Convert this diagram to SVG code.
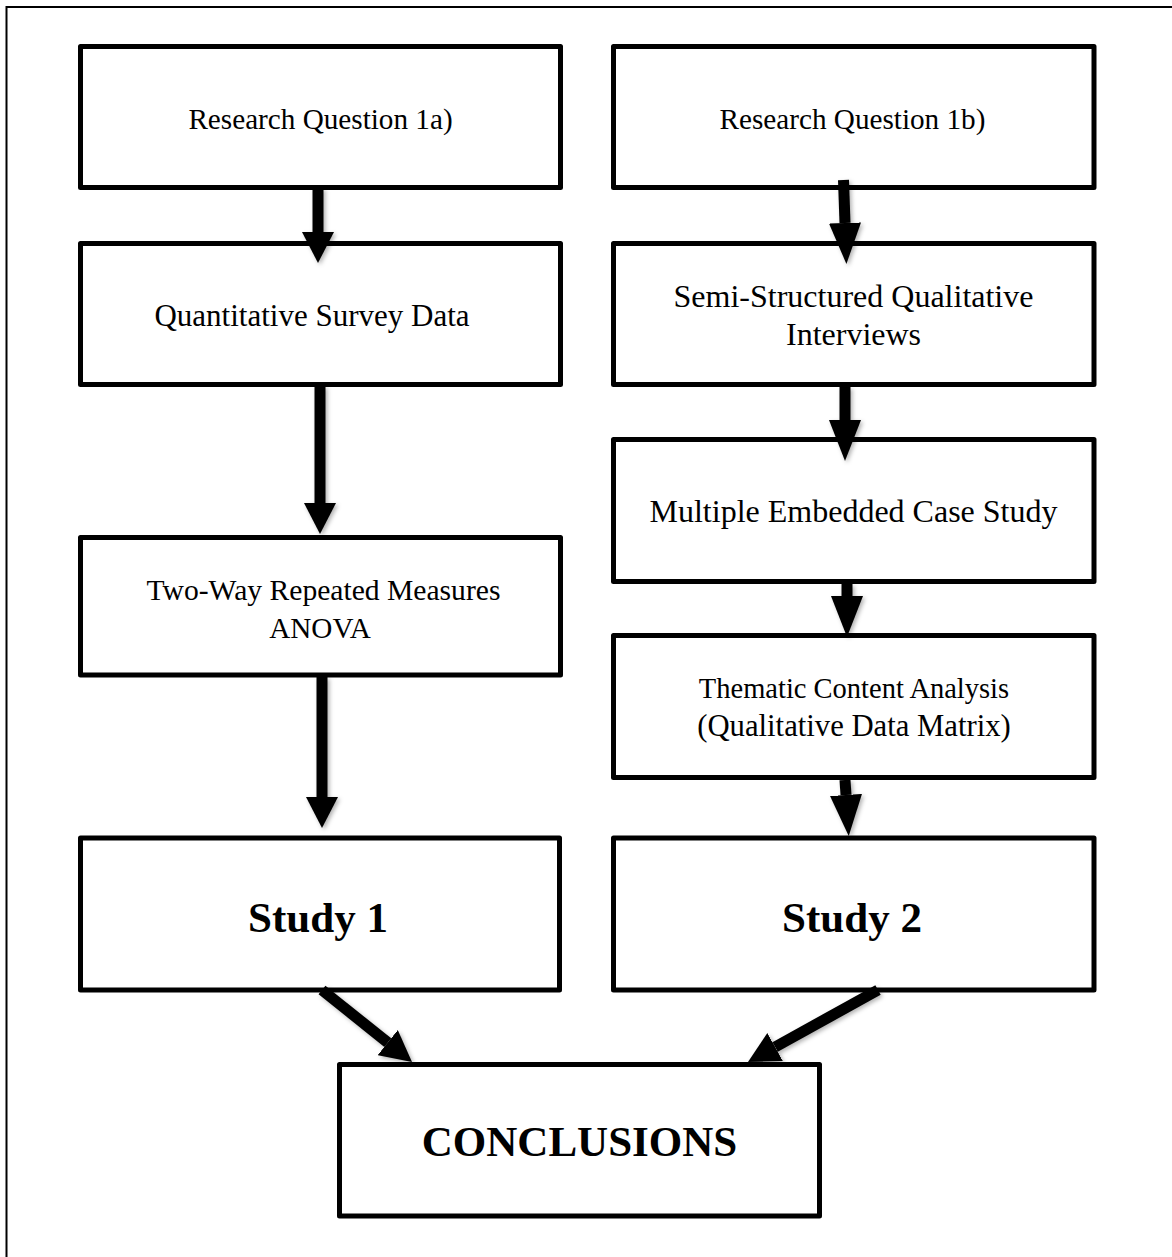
<svg xmlns="http://www.w3.org/2000/svg" width="1172" height="1257" viewBox="0 0 1172 1257">
  <style>
    .frame { fill: none; stroke: #000; stroke-width: 2; }
    .box { fill: #fff; stroke: #000; stroke-width: 5; stroke-linejoin: round; }
    .label { font-family: "Liberation Serif", "Times New Roman", serif; font-size: 31px; fill: #000; text-anchor: middle; }
    .title { font-family: "Liberation Serif", "Times New Roman", serif; font-size: 43px; font-weight: bold; fill: #000; text-anchor: middle; }
    .shaft { stroke: #000; stroke-width: 11; fill: none; }
    .short { marker-end: url(#headShort); }
    .long { marker-end: url(#headLong); }
  </style>
  <defs>
    <marker id="headShort" markerUnits="userSpaceOnUse" viewBox="0 -16 31 32" markerWidth="31" markerHeight="32" refX="0" refY="0" orient="auto">
      <path d="M0,-16 L31,0 L0,16 Z" fill="#000"/>
    </marker>
    <marker id="headLong" markerUnits="userSpaceOnUse" viewBox="0 -16 41 32" markerWidth="41" markerHeight="32" refX="0" refY="0" orient="auto">
      <path d="M0,-16 L41,0 L0,16 Z" fill="#000"/>
    </marker>
    <filter id="soft" x="-30%" y="-30%" width="160%" height="160%">
      <feDropShadow dx="2" dy="2" stdDeviation="2" flood-color="#000" flood-opacity="0.3"/>
    </filter>
  </defs>

  <rect width="1172" height="1257" fill="#fff"/>
  <!-- page frame (right and bottom edges run off the page) -->
  <rect class="frame" x="6.5" y="7" width="1190" height="1280"/>

  <!-- left column -->
  <g id="rq1a">
    <rect class="box" x="80.5" y="46.5" width="480" height="141"/>
    <text class="label" x="320.5" y="129" style="font-size:29.2px">Research Question 1a)</text>
  </g>
  <g id="quant-survey">
    <rect class="box" x="80.5" y="243.5" width="480" height="141"/>
    <text class="label" x="312" y="326">Quantitative Survey Data</text>
  </g>
  <g id="anova">
    <rect class="box" x="80.5" y="537.5" width="480" height="137.5"/>
    <text class="label" x="323.5" y="600" style="font-size:29.6px">Two-Way Repeated Measures</text>
    <text class="label" x="320" y="638" style="font-size:29.2px">ANOVA</text>
  </g>
  <g id="study1">
    <rect class="box" x="80.5" y="838" width="479" height="152"/>
    <text class="title" x="318" y="932">Study 1</text>
  </g>

  <!-- right column -->
  <g id="rq1b">
    <rect class="box" x="613.5" y="46.5" width="480.5" height="141"/>
    <text class="label" x="852.5" y="129" style="font-size:29.2px">Research Question 1b)</text>
  </g>
  <g id="interviews">
    <rect class="box" x="613.5" y="243.5" width="480.5" height="141"/>
    <text class="label" x="853.5" y="307" style="font-size:32px">Semi-Structured Qualitative</text>
    <text class="label" x="853.5" y="345" style="font-size:32px">Interviews</text>
  </g>
  <g id="case-study">
    <rect class="box" x="613.5" y="439.5" width="480.5" height="142"/>
    <text class="label" x="853.5" y="522" style="font-size:32px">Multiple Embedded Case Study</text>
  </g>
  <g id="thematic">
    <rect class="box" x="613.5" y="635.5" width="480.5" height="142"/>
    <text class="label" x="854" y="698" style="font-size:28.5px">Thematic Content Analysis</text>
    <text class="label" x="854" y="736" style="font-size:30.7px">(Qualitative Data Matrix)</text>
  </g>
  <g id="study2">
    <rect class="box" x="613.5" y="838" width="480.5" height="152"/>
    <text class="title" x="852" y="932">Study 2</text>
  </g>

  <!-- bottom -->
  <g id="conclusions">
    <rect class="box" x="339.5" y="1064.5" width="480" height="151.5"/>
    <text class="title" x="579.5" y="1156">CONCLUSIONS</text>
  </g>

  <!-- connectors -->
  <g id="connectors" filter="url(#soft)">
    <line class="shaft short" x1="318" y1="188" x2="318" y2="232"/>
    <line class="shaft short" x1="320" y1="386" x2="320" y2="503"/>
    <line class="shaft short" x1="322" y1="677" x2="322" y2="797"/>

    <line class="shaft long" x1="843.5" y1="180" x2="845" y2="223"/>
    <line class="shaft long" x1="845" y1="387" x2="845" y2="420"/>
    <line class="shaft long" x1="847" y1="584" x2="847" y2="596"/>
    <line class="shaft long" x1="845" y1="780" x2="846" y2="795"/>

    <line class="shaft short" x1="322" y1="990" x2="387.8" y2="1042.6"/>
    <line class="shaft short" x1="878" y1="990" x2="775.1" y2="1047"/>
  </g>
</svg>
